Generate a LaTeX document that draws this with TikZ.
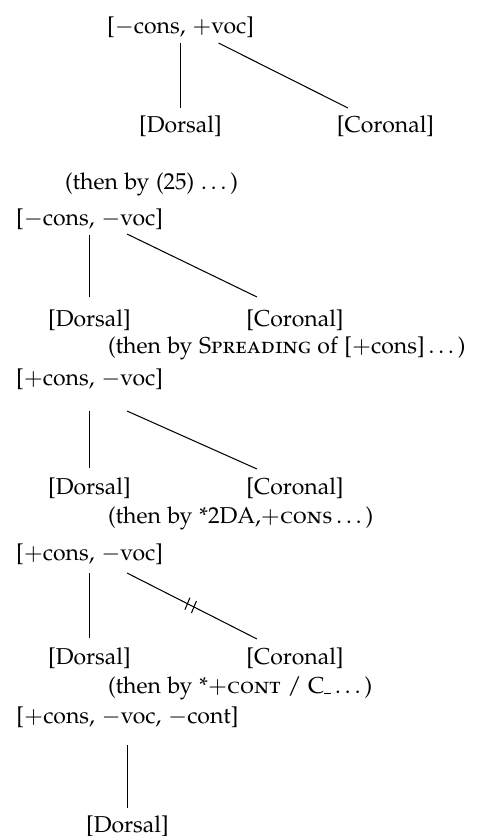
\documentclass[tikz,border=0pt]{standalone}
\usepackage[T1]{fontenc}
\usepackage[sc]{mathpazo}
\usetikzlibrary{calc}
\begin{document}
\begin{tikzpicture}[x=0.435pt,y=-0.435pt,
  txt/.style={inner sep=0pt,outer sep=0pt,anchor=base},
  note/.style={inner sep=0pt,outer sep=0pt,anchor=base west},
  edge/.style={line width=0.45pt}]
\path[use as bounding box] (0,0) rectangle (488,836);

% block 1
\node[txt] (h1) at (180.5,33) {[$-$cons, $+$voc]};
\node[txt] (d1) at (180.5,132) {[Dorsal]};
\node[txt] (c1) at (385.5,132) {[Coronal]};
\draw[edge] ($(h1.base)+(0,10)$) -- ($(d1.base)+(0,-24)$);
\draw[edge] ($(h1.base)+(38,10)$) -- ($(c1.base)+(-37.5,-24)$);

% block 2
\node[note] (t2) at (65,189) {(then by (25) \ldots)};
\node[txt] (h2) at (89.5,225) {[$-$cons, $-$voc]};
\node[txt] (d2) at (89.5,326) {[Dorsal]};
\node[txt] (c2) at (295,326) {[Coronal]};
\draw[edge] ($(h2.base)+(0,10)$) -- ($(d2.base)+(0,-29)$);
\draw[edge] ($(h2.base)+(37.5,9)$) -- ($(c2.base)+(-38,-29)$);

% block 3
\node[note] (t3) at (108,353) {(then by \textsc{Spreading} of [$+$cons]\,\ldots)};
\node[txt] (h3) at (89.5,385) {[$+$cons, $-$voc]};
\node[txt] (d3) at (89.5,494) {[Dorsal]};
\node[txt] (c3) at (295,494) {[Coronal]};
\draw[edge] ($(h3.base)+(0,26)$) -- ($(d3.base)+(0,-26)$);
\draw[edge] ($(h3.base)+(37.5,26)$) -- ($(c3.base)+(-38,-25)$);

% block 4
\node[note] (t4) at (108,523) {(then by *2DA,$+$\textsc{cons}\,\ldots)};
\node[txt] (h4) at (89.5,560) {[$+$cons, $-$voc]};
\node[txt] (d4) at (89.5,664) {[Dorsal]};
\node[txt] (c4) at (295,664) {[Coronal]};
\draw[edge] ($(h4.base)+(0,13)$) -- ($(d4.base)+(0,-26)$);
\coordinate (a4) at ($(h4.base)+(37.5,13)$);
\coordinate (b4) at ($(c4.base)+(-38,-25)$);
\draw[edge] (a4) -- (b4);
\path (a4) -- (b4) coordinate[pos=0.465] (m1) coordinate[pos=0.515] (m2);
\draw[edge] ($(m1)+(-2.5,6)$) -- ($(m1)+(2.5,-6)$);
\draw[edge] ($(m2)+(-2.5,6)$) -- ($(m2)+(2.5,-6)$);

% block 5
\node[note] (t5) at (108,693) {(then by *$+$\textsc{cont} / C\rule[-0.3pt]{0.3em}{0.45pt}\,\ldots)};
\node[txt] (h5) at (127.5,723) {[$+$cons, $-$voc, $-$cont]};
\node[txt] (d5) at (127.5,832) {[Dorsal]};
\draw[edge] ($(h5.base)+(0,22)$) -- ($(d5.base)+(0,-24)$);
\end{tikzpicture}
\end{document}
